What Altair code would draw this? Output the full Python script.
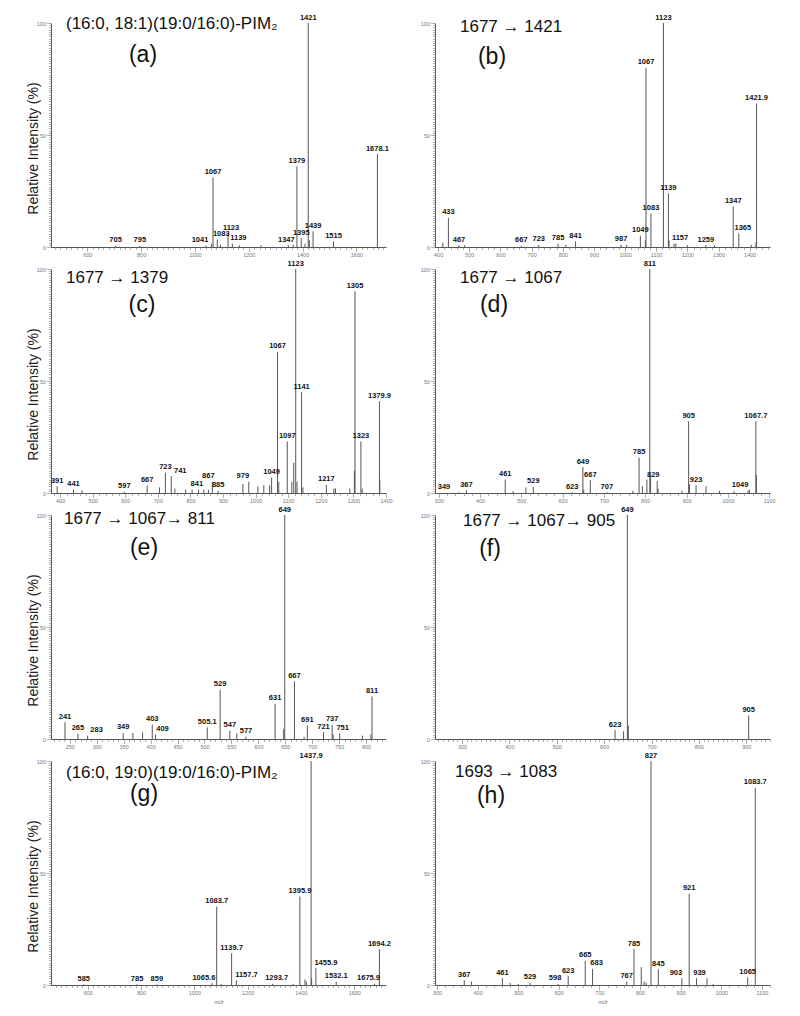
import altair as alt
import pandas as pd

FONT = "Liberation Sans"

# ---------------- data (m/z, relative intensity %, labels) ----------------
# (a) (16:0, 18:1)(19:0/16:0)-PIM2
a_mz = [705, 795, 1041, 1067, 1083, 1123, 1139, 1347, 1379, 1395, 1421, 1439, 1515, 1678.1]
a_int = [0.5, 0.5, 0.6, 31, 3.3, 6, 1.5, 0.8, 36, 4, 100, 7, 2.5, 41.5]
a_lab = ["705", "795", "1041", "1067", "1083", "1123", "1139", "1347", "1379", "1395", "1421", "1439", "1515", "1678.1"]
a_mz2 = [1061, 1095, 1165, 1245, 1365, 1409, 1425]
a_int2 = [1.5, 1.0, 0.8, 0.8, 1.0, 1.5, 3.0]

# (b) 1677 -> 1421
b_mz = [433, 467, 667, 723, 785, 841, 987, 1049, 1067, 1083, 1123, 1139, 1157, 1259, 1347, 1365, 1421.9]
b_int = [13, 0.8, 0.5, 1, 1.5, 2.5, 1, 5, 80, 15, 100, 24, 1.5, 0.8, 18, 6, 64]
b_lab = ["433", "467", "667", "723", "785", "841", "987", "1049", "1067", "1083", "1123", "1139", "1157", "1259", "1347", "1365", "1421.9"]
b_mz2 = [415, 485, 810, 1005, 1065, 1141, 1163, 1200, 1287, 1405, 1420]
b_int2 = [2, 0.8, 1, 1, 3, 3, 1.5, 0.8, 0.8, 1, 2]

# (c) 1677 -> 1379
c_mz = [391, 441, 597, 667, 723, 741, 841, 867, 885, 979, 1049, 1067, 1097, 1123, 1141, 1217, 1305, 1323, 1379.9]
c_int = [3, 1.5, 0.5, 3.3, 9, 7.5, 1.5, 5, 1, 5, 6.8, 63, 23, 100, 45, 3.6, 90, 23, 41]
c_lab = ["391", "441", "597", "667", "723", "741", "841", "867", "885", "979", "1049", "1067", "1097", "1123", "1141", "1217", "1305", "1323", "1379.9"]
c_mz2 = [467, 705, 752, 785, 805, 825, 855, 961, 1007, 1025, 1043, 1071, 1111, 1117, 1127, 1145, 1240, 1245, 1289, 1303, 1327, 1381]
c_int2 = [1.2, 2.5, 2, 1.5, 1.5, 1.5, 1.5, 4, 3, 3.5, 3.5, 5, 5, 13.5, 5, 2.5, 2, 2, 2, 10, 2, 6]

# (d) 1677 -> 1067
d_mz = [349, 367, 461, 529, 623, 649, 667, 707, 785, 811, 829, 905, 923, 1049, 1067.7]
d_int = [0.3, 1.2, 6, 2.7, 0.3, 11.6, 5.7, 0.3, 15.8, 100, 5.4, 32, 3.4, 1, 32]
d_lab = ["349", "367", "461", "529", "623", "649", "667", "707", "785", "811", "829", "905", "923", "1049", "1067.7"]
d_mz2 = [480, 511, 651, 770, 793, 804, 813, 831, 889, 907, 947, 980, 1015, 1052, 1069]
d_int2 = [0.8, 2.5, 1.5, 1, 3, 6, 8, 2, 1, 4, 3, 1, 0.8, 1.5, 8]

# (e) 1677 -> 1067 -> 811
e_mz = [241, 265, 283, 349, 403, 409, 505.1, 529, 547, 577, 631, 649, 667, 691, 721, 737, 751, 811]
e_int = [7.5, 2.5, 1.5, 2.7, 6.4, 2, 5.2, 22, 3.7, 1, 15.7, 100, 25.7, 6, 3, 6.4, 2.5, 19]
e_lab = ["241", "265", "283", "349", "403", "409", "505.1", "529", "547", "577", "631", "649", "667", "691", "721", "737", "751", "811"]
e_mz2 = [367, 385, 560, 647, 685, 739, 793, 809]
e_int2 = [2.7, 3, 2.5, 4.5, 1, 2, 1.5, 2]

# (f) 1677 -> 1067 -> 905
f_mz = [623, 649, 905]
f_int = [4, 100, 10.5]
f_lab = ["623", "649", "905"]
f_mz2 = [641, 651]
f_int2 = [3.5, 6]

# (g) (16:0, 19:0)(19:0/16:0)-PIM2
g_mz = [585, 785, 859, 1065.6, 1083.7, 1139.7, 1157.7, 1293.7, 1395.9, 1437.9, 1455.9, 1532.1, 1675.9, 1694.2]
g_int = [0.3, 0.3, 0.3, 0.8, 35, 14.2, 2, 0.5, 39.5, 100, 7.5, 1.5, 0.5, 16]
g_lab = ["585", "785", "859", "1065.6", "1083.7", "1139.7", "1157.7", "1293.7", "1395.9", "1437.9", "1455.9", "1532.1", "1675.9", "1694.2"]
g_mz2 = [1100, 1370, 1415, 1420, 1440]
g_int2 = [0.5, 0.5, 2.5, 1.5, 3]

# (h) 1693 -> 1083
h_mz = [367, 461, 529, 598, 623, 665, 683, 767, 785, 827, 845, 903, 921, 939, 1065, 1083.7]
h_int = [2.2, 3, 1, 0.5, 4, 10.8, 7.2, 1.5, 16, 100, 7, 3, 40.7, 3, 3.4, 88]
h_lab = ["367", "461", "529", "598", "623", "665", "683", "767", "785", "827", "845", "903", "921", "939", "1065", "1083.7"]
h_mz2 = [385, 480, 500, 803, 810, 815, 965, 980]
h_int2 = [1.5, 1, 0.5, 8, 1.5, 1, 3, 0.5]

titles = ["(16:0, 18:1)(19:0/16:0)-PIM\u2082", "1677 \u2192 1421", "1677 \u2192 1379", "1677 \u2192 1067",
          "1677 \u2192 1067\u2192 811", "1677 \u2192 1067\u2192 905", "(16:0, 19:0)(19:0/16:0)-PIM\u2082", "1693 \u2192 1083"]
letters = ["(a)", "(b)", "(c)", "(d)", "(e)", "(f)", "(g)", "(h)"]

# label nudges (pixels, horizontal) to keep neighbouring peak labels apart
nudges = {
    "a": {"1041": -6, "1083": 4, "1123": 3, "1139": 6, "1347": -2},
    "b": {"1157": 6, "1365": 4},
    "c": {"741": 9, "841": -7, "867": -4, "979": -6},
    "d": {"349": -15, "829": -4, "1049": -8},
    "e": {"283": 9, "409": 7, "751": 3},
    "g": {"1065.6": -8, "1157.7": 10, "1455.9": 10, "1675.9": -6, "1293.7": 4},
    "h": {"683": 4, "903": -6, "939": 3, "598": -3},
}

W, H = 335, 224


def panel(key, mz, inten, lab, mz2, int2, dom, major, minor, title, letter,
          tpos, lpos, left, bottom):
    ppu = W / (dom[1] - dom[0])
    nd = nudges.get(key, {})
    peaks = pd.DataFrame({"mz": mz, "inten": inten, "label": lab})
    peaks["lx"] = [m + nd.get(l, 0) / ppu for m, l in zip(mz, lab)]
    allp = pd.DataFrame({"mz": list(mz) + list(mz2), "inten": list(inten) + list(int2)})

    maj_start = int(-(-dom[0] // major) * major)
    maj_vals = list(range(maj_start, int(dom[1]) + 1, major))
    min_start = int(-(-dom[0] // minor) * minor)
    min_vals = [v for v in range(min_start, int(dom[1]) + 1, minor) if v % major != 0]

    xscale = alt.Scale(domain=dom, nice=False, zero=False)
    yscale = alt.Scale(domain=[0, 100], nice=False)

    xmaj_kw = dict(values=maj_vals, format="d", grid=False, tickSize=4.5, labelPadding=1,
                   orient="bottom", labelFlush=False)
    if bottom:
        xmaj_kw.update(title="m/z", titleFontSize=5.5, titleFontStyle="italic",
                       titleFontWeight="normal", titleColor="#666", titlePadding=3, titleFont=FONT)
    else:
        xmaj_kw.update(title=None)
    ymaj_kw = dict(values=[0, 50, 100], format="d", grid=False, tickSize=4.5, labelPadding=1,
                   orient="left", labelFlush=False)
    if left:
        ymaj_kw.update(title="Relative Intensity (%)", titleFontSize=14, titleFontWeight="normal",
                       titleColor="#222", titleFont=FONT, titleX=-11, titleY=125)
    else:
        ymaj_kw.update(title=None)

    rules = alt.Chart(allp).mark_rule(color="#555", strokeWidth=1).encode(
        x=alt.X("mz:Q", scale=xscale, axis=alt.Axis(**xmaj_kw)),
        y=alt.Y("inten:Q", scale=yscale, axis=alt.Axis(**ymaj_kw)),
        y2=alt.datum(0))

    minor_ticks = alt.Chart(allp).mark_point(opacity=0).encode(
        x=alt.X("mz:Q", axis=alt.Axis(values=min_vals, labels=False, domain=False, grid=False,
                                       tickSize=2.5, title=None, orient="bottom")),
        y=alt.Y("inten:Q", axis=alt.Axis(values=[v for v in range(0, 101) if v % 50 != 0],
                                          labels=False, domain=False, grid=False,
                                          tickSize=2.5, title=None, orient="left")))

    labels = alt.Chart(peaks).mark_text(
        font=FONT, fontSize=7.5, fontWeight="bold", baseline="bottom", dy=-1.5, color="#111"
    ).encode(x=alt.X("lx:Q", axis=None), y=alt.Y("inten:Q", axis=None), text="label:N")
    ttl = alt.Chart(pd.DataFrame({"t": [title]})).mark_text(
        font=FONT, fontSize=17, align="left", baseline="alphabetic", color="#111"
    ).encode(x=alt.value(tpos[0]), y=alt.value(tpos[1]), text="t:N")
    let = alt.Chart(pd.DataFrame({"t": [letter]})).mark_text(
        font=FONT, fontSize=23, align="center", baseline="alphabetic", color="#111"
    ).encode(x=alt.value(lpos[0]), y=alt.value(lpos[1]), text="t:N")
    return alt.layer(rules, minor_ticks, labels, ttl, let).resolve_axis(
        x="independent", y="independent").properties(width=W, height=H)


pa = panel("a", a_mz, a_int, a_lab, a_mz2, a_int2, [465, 1710], 200, 20, titles[0], letters[0], (15, 6), (92, 39), True, False)
pb = panel("b", b_mz, b_int, b_lab, b_mz2, b_int2, [390, 1465], 100, 20, titles[1], letters[1], (25, 9), (57, 41), False, False)
pc = panel("c", c_mz, c_int, c_lab, c_mz2, c_int2, [372, 1400], 100, 20, titles[2], letters[2], (15, 14), (91, 43), True, False)
pd_ = panel("d", d_mz, d_int, d_lab, d_mz2, d_int2, [291, 1102], 100, 20, titles[3], letters[3], (25, 14), (59, 43), False, False)
pe = panel("e", e_mz, e_int, e_lab, e_mz2, e_int2, [215, 837], 50, 10, titles[4], letters[4], (13, 9), (93, 40), True, False)
pf = panel("f", f_mz, f_int, f_lab, f_mz2, f_int2, [243, 950], 100, 10, titles[5], letters[5], (28, 11), (55, 41), False, False)
pg = panel("g", g_mz, g_int, g_lab, g_mz2, g_int2, [462, 1719], 200, 20, titles[6], letters[6], (15, 17), (93, 40), True, True)
ph = panel("h", h_mz, h_int, h_lab, h_mz2, h_int2, [295, 1120], 100, 20, titles[7], letters[7], (20, 16), (56, 42), False, True)

chart = alt.concat(pa, pb, pc, pd_, pe, pf, pg, ph, columns=2,
                   spacing=alt.RowColnumber(row=22, column=49), bounds="flush").properties(
    padding={"left": 18, "top": 5, "right": 5, "bottom": 5}
).configure_view(stroke=None).configure_axis(
    domainColor="#555", domainWidth=1, tickColor="#777", tickWidth=0.6,
    labelColor="#777", labelFont=FONT, labelFontSize=5.5, labelOverlap=False,
)

chart.save("out.html", embed_options={"renderer": "svg", "actions": False})
